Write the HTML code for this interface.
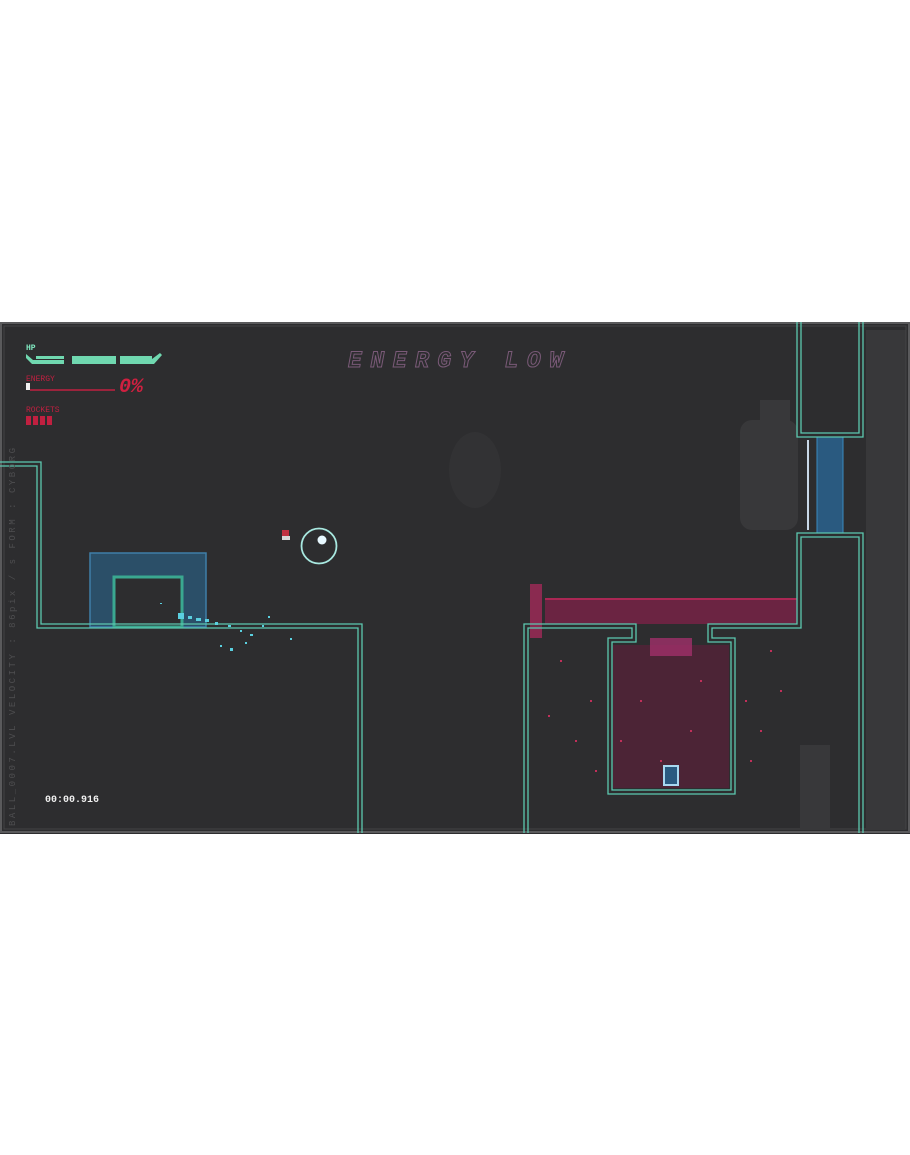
<!DOCTYPE html>
<html><head><meta charset="utf-8"><style>
html,body{margin:0;padding:0;background:#fff;width:910px;height:1155px;overflow:hidden}
svg{display:block}
text{font-family:"Liberation Mono",monospace}
</style></head><body>
<svg width="910" height="1155" viewBox="0 0 910 1155" xmlns="http://www.w3.org/2000/svg">
<rect x="0" y="322" width="910" height="512" fill="#2d2d2f"/>
<g fill="#38383a">
<rect x="866" y="330" width="40" height="498"/>
<rect x="740" y="420" width="58" height="110" rx="12"/>
<rect x="760" y="400" width="30" height="30"/>
<rect x="800" y="745" width="30" height="83"/>
<ellipse cx="475" cy="470" rx="26" ry="38" fill="#323234"/>
</g>
<rect x="1" y="323" width="908" height="509" fill="none" stroke="#5a5a5c" stroke-width="2"/>
<rect x="4" y="326" width="902" height="503" fill="none" stroke="#444446" stroke-width="1"/>

<rect x="90" y="553" width="116" height="74" fill="#2b4f68" stroke="#3f7fa8" stroke-width="1.5"/>
<rect x="114" y="577" width="68" height="50" fill="#2d2d2f" stroke="#3aa890" stroke-width="3"/>

<rect x="545" y="598" width="252" height="26" fill="#6b2442"/>
<line x1="545" y1="599" x2="797" y2="599" stroke="#c0285a" stroke-width="1.5"/>
<rect x="613" y="645" width="116" height="143" fill="#4c2436"/>
<rect x="530" y="584" width="12" height="54" fill="#8a2a50"/>
<rect x="650" y="638" width="42" height="18" fill="#a0306a" opacity="0.8"/>
<g fill="#c0305a">
<rect x="560" y="660" width="2" height="2"/><rect x="590" y="700" width="2" height="2"/><rect x="548" y="715" width="2" height="2"/>
<rect x="575" y="740" width="2" height="2"/><rect x="595" y="770" width="2" height="2"/><rect x="745" y="700" width="2" height="2"/>
<rect x="760" y="730" width="2" height="2"/><rect x="780" y="690" width="2" height="2"/><rect x="750" y="760" width="2" height="2"/>
<rect x="640" y="700" width="2" height="2"/><rect x="690" y="730" width="2" height="2"/><rect x="660" y="760" width="2" height="2"/>
<rect x="700" y="680" width="2" height="2"/><rect x="620" y="740" width="2" height="2"/><rect x="770" y="650" width="2" height="2"/>
</g>
<rect x="817" y="437" width="26" height="96" fill="#2a5a80" stroke="#3a8ac0" stroke-width="1"/>
<line x1="808" y1="440" x2="808" y2="530" stroke="#c8d8e8" stroke-width="2"/>

<g fill="none" stroke="#5cc8b0" stroke-width="1.3">
<path d="M0 462 H41 V624 H362 V833"/>
<path d="M0 466 H37 V628 H358 V833"/>
<path d="M524 833 V624 H636 V642 H612 V790 H731 V642 H708 V624 H797 V533 H863 V833"/>
<path d="M528 833 V628 H632 V638 H608 V794 H735 V638 H712 V628 H801 V537 H859 V833"/>
<path d="M797 322 V437 H863 V322"/>
<path d="M801 322 V433 H859 V322"/>
</g>

<g fill="#5ad0e0">
<rect x="178" y="613" width="6" height="6"/><rect x="188" y="616" width="4" height="3"/><rect x="196" y="618" width="5" height="3"/>
<rect x="205" y="619" width="4" height="3"/><rect x="215" y="622" width="3" height="3"/><rect x="228" y="625" width="3" height="2"/>
<rect x="240" y="630" width="2" height="2"/><rect x="250" y="634" width="3" height="2"/><rect x="230" y="648" width="3" height="3"/>
<rect x="220" y="645" width="2" height="2"/><rect x="262" y="625" width="2" height="2"/><rect x="290" y="638" width="2" height="2"/>
<rect x="245" y="642" width="2" height="2"/><rect x="268" y="616" width="2" height="2"/><rect x="160" y="603" width="2" height="1"/>
</g>

<circle cx="319" cy="546" r="17.5" fill="none" stroke="#a8e8e0" stroke-width="1.8"/>
<circle cx="322" cy="540" r="4.5" fill="#e8f8ff"/>
<rect x="282" y="530" width="7" height="6" fill="#c03040"/>
<rect x="282" y="536" width="8" height="4" fill="#d8d8d8"/>
<rect x="664" y="766" width="14" height="19" fill="#2a5a80" stroke="#a8d8f0" stroke-width="2"/>

<text x="26" y="350" font-size="8" font-weight="bold" fill="#80e8c0">HP</text>
<g fill="#70d8b0">
<polygon points="26,354 33,360 64,360 64,364 32,364 26,358"/>
<rect x="72" y="359" width="44" height="5"/>
<polygon points="120,359 152,359 160,353 162,355 154,364 120,364"/>
<rect x="36" y="356" width="28" height="3"/><rect x="72" y="356" width="44" height="3"/><rect x="120" y="356" width="32" height="3"/>
</g>
<text x="26" y="381" font-size="8" fill="#c02040">ENERGY</text>
<rect x="26" y="383" width="4" height="7" fill="#f0f0f0"/>
<line x1="30" y1="390" x2="115" y2="390" stroke="#c02040" stroke-width="1.5"/>
<text x="119" y="392" font-size="20" font-weight="bold" font-style="italic" fill="#d02040" font-family="Liberation Sans,sans-serif">0%</text>
<text x="26" y="412" font-size="8" fill="#c02040">ROCKETS</text>
<g fill="#c02040"><rect x="26" y="416" width="5" height="9"/><rect x="33" y="416" width="5" height="9"/><rect x="40" y="416" width="5" height="9"/><rect x="47" y="416" width="5" height="9"/></g>

<text x="348" y="367" font-size="23" font-weight="bold" font-style="italic" fill="none" stroke="#7a5a78" stroke-width="1" letter-spacing="3" font-family="Liberation Sans,sans-serif" textLength="218">ENERGY LOW</text>

<text transform="translate(15,826) rotate(-90)" font-size="9" fill="#4e4e50" textLength="378" lengthAdjust="spacing">BALL_0007.LVL    VELOCITY : 86pix / s    FORM : CYBORG</text>

<text x="45" y="802" font-size="10" font-weight="bold" fill="#f0f0f0">00:00.916</text>
</svg>
</body></html>
